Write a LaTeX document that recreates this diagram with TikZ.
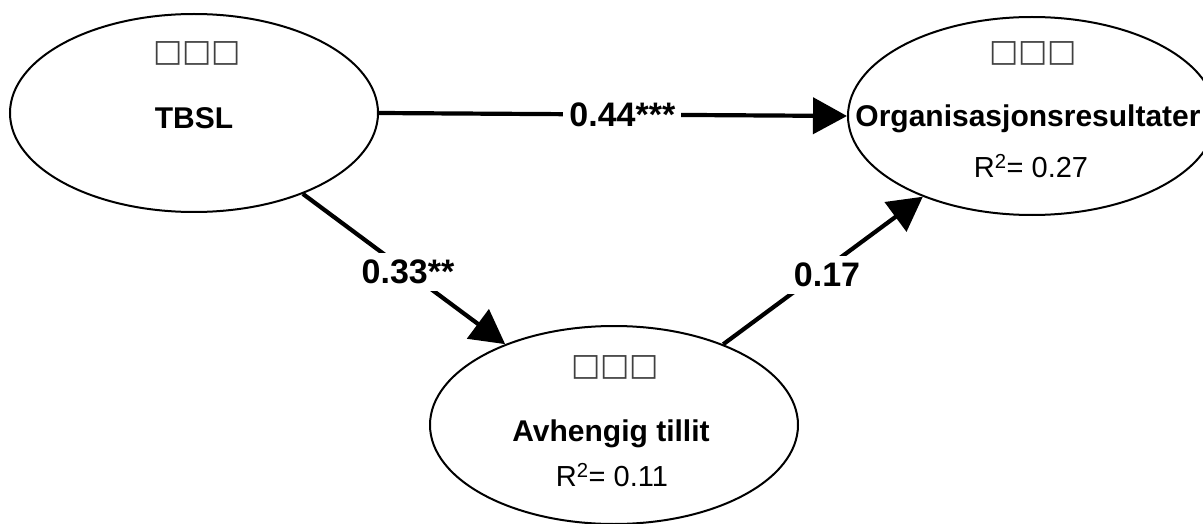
\documentclass[tikz,border=0pt]{standalone}
\usepackage{fontspec}
\setmainfont{Liberation Sans}
\newfontfamily\boxfont{DejaVu Sans}
\usetikzlibrary{shapes.geometric,arrows.meta}
\tikzset{
  construct/.style={draw=black, line width=2pt, ellipse, minimum width=368pt, minimum height=198pt, inner sep=0pt, fill=white},
  namelabel/.style={font=\fontsize{30}{34}\selectfont\bfseries, inner sep=0pt},
  rlabel/.style={font=\fontsize{29}{34}\selectfont, inner sep=0pt},
  tofu/.style={font=\boxfont\fontsize{31}{34}\selectfont, inner sep=0pt, text=black!75},
  path/.style={line width=4.2pt, -{Triangle[length=34pt,width=36pt]}},
  coef/.style={font=\fontsize{34}{40}\selectfont\bfseries, fill=white, inner xsep=6pt, inner ysep=7pt}
}
\begin{document}
\begin{tikzpicture}[x=1pt,y=-1pt]
\useasboundingbox (0,0) rectangle (1203,524);
\clip (0,0) rectangle (1203,524);
\node[construct] (tbsl) at (194,113) {};
\node[construct] (org) at (1032,116) {};
\node[construct] (avh) at (614,425) {};
\node[tofu] (tbslbox) at (197,53) {□□□};
\node[namelabel] (tbsltext) at (194,118) {TBSL};
\node[tofu] (orgbox) at (1033,53) {□□□};
\node[namelabel] (orgtext) at (1028,119) {Organisasjonsresultater};
\node[rlabel] (orgr) at (1031,166) {R\textsuperscript{2}= 0.27};
\node[tofu] (avhbox) at (615,367) {□□□};
\node[namelabel] (avhtext) at (611,434) {Avhengig tillit};
\node[rlabel] (avhr) at (612,475) {R\textsuperscript{2}= 0.11};
\draw[path] (tbsl.east) -- node[coef, pos=0.52] (c1) {0.44***} (org.west);
\draw[path] (tbsl) -- node[coef, pos=0.52] (c2) {0.33**} (avh);
\draw[path] (avh) -- node[coef, pos=0.52, yshift=-7pt] (c3) {0.17} (org);
\end{tikzpicture}
\end{document}
